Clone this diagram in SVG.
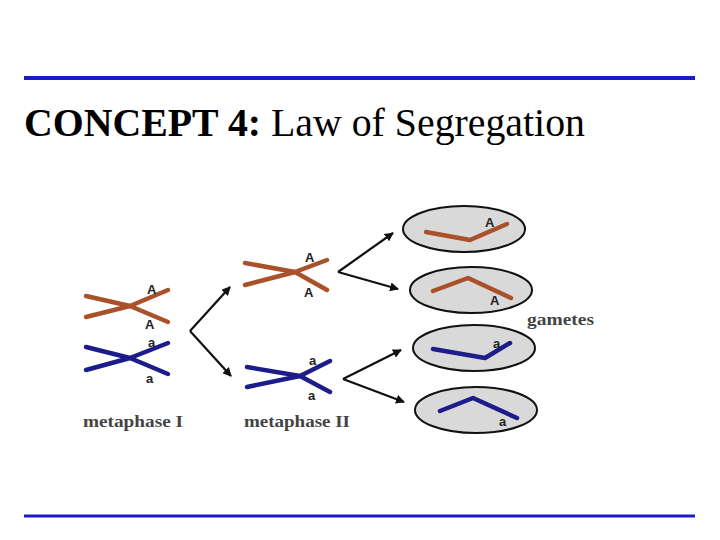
<svg xmlns="http://www.w3.org/2000/svg" width="720" height="540" viewBox="0 0 720 540">
<style>
.o{fill:none;stroke:#a9512a;stroke-width:4.5;stroke-linecap:round;stroke-linejoin:round}
.b{fill:none;stroke:#1c1c8a;stroke-width:4.5;stroke-linecap:round;stroke-linejoin:round}
.l{font-family:"Liberation Sans",Arial,sans-serif;font-weight:bold;font-size:13px;fill:#222}
.c{font-family:"Liberation Serif","Times New Roman",serif;font-weight:bold;font-size:17px;fill:#444}
.cell{fill:#d9d9d9;stroke:#111;stroke-width:2}
.ar{fill:none;stroke:#111;stroke-width:2.2}
</style>
<defs><marker id="ah" markerWidth="9" markerHeight="9" refX="8" refY="4.5" orient="auto" markerUnits="userSpaceOnUse" viewBox="0 0 9 9"><path d="M0,0 L9,4.5 L0,9 z" fill="#111"/></marker></defs>
<rect width="720" height="540" fill="#fff"/>
<line x1="24" y1="78" x2="695" y2="78" stroke="#1a1acc" stroke-width="4"/>
<line x1="24" y1="516" x2="695" y2="516" stroke="#1a1acc" stroke-width="3"/>
<text x="24" y="136" font-family="Liberation Serif,Times New Roman,serif" font-size="39" fill="#000" textLength="561" lengthAdjust="spacingAndGlyphs"><tspan font-weight="bold">CONCEPT 4:</tspan> Law of Segregation</text>
<g id="met1">
<polyline class="o" points="86,296 130,306 168,322"/><polyline class="o" points="86,317 130,306 168,290"/>
<text class="l" x="147" y="294">A</text><text class="l" x="145" y="329">A</text>
<polyline class="b" points="86,347 130,358 168,374"/><polyline class="b" points="86,370 130,358 168,343"/>
<text class="l" x="148" y="347">a</text><text class="l" x="146" y="383">a</text>
<text class="c" x="83" y="427" textLength="100" lengthAdjust="spacingAndGlyphs">metaphase I</text>
</g>
<g id="met2">
<polyline class="o" points="245,263 295,272 327,290"/><polyline class="o" points="245,285 295,272 327,260"/>
<text class="l" x="305" y="262">A</text><text class="l" x="304" y="297">A</text>
<polyline class="b" points="247,367 300,376 330,392"/><polyline class="b" points="247,387 300,376 330,361"/>
<text class="l" x="309" y="365">a</text><text class="l" x="308" y="400">a</text>
<text class="c" x="244" y="427" textLength="106" lengthAdjust="spacingAndGlyphs">metaphase II</text>
</g>
<g id="g1"><ellipse class="cell" cx="464" cy="229" rx="61" ry="23"/><polyline class="o" points="426,232 470,240 507,224"/><text class="l" x="485" y="227">A</text></g>
<g id="g2"><ellipse class="cell" cx="471" cy="290" rx="61" ry="23"/><polyline class="o" points="433,291 468,278 511,298"/><text class="l" x="490" y="305">A</text></g>
<g id="g3"><ellipse class="cell" cx="474" cy="348" rx="61" ry="23"/><polyline class="b" points="433,349 485,358 510,343"/><text class="l" x="493" y="348">a</text></g>
<g id="g4"><ellipse class="cell" cx="476" cy="410" rx="61" ry="23"/><polyline class="b" points="440,411 473,398 517,418"/><text class="l" x="499" y="426">a</text></g>
<text class="c" x="527" y="325" textLength="67" lengthAdjust="spacingAndGlyphs">gametes</text>
<g id="connectors">
<line class="ar" x1="190" y1="331" x2="230" y2="287" marker-end="url(#ah)"/>
<line class="ar" x1="190" y1="331" x2="231" y2="376" marker-end="url(#ah)"/>
<line class="ar" x1="338" y1="272" x2="393" y2="233" marker-end="url(#ah)"/>
<line class="ar" x1="338" y1="272" x2="398" y2="289" marker-end="url(#ah)"/>
<line class="ar" x1="343" y1="379" x2="401" y2="350" marker-end="url(#ah)"/>
<line class="ar" x1="343" y1="379" x2="404" y2="402" marker-end="url(#ah)"/>
</g>
</svg>
